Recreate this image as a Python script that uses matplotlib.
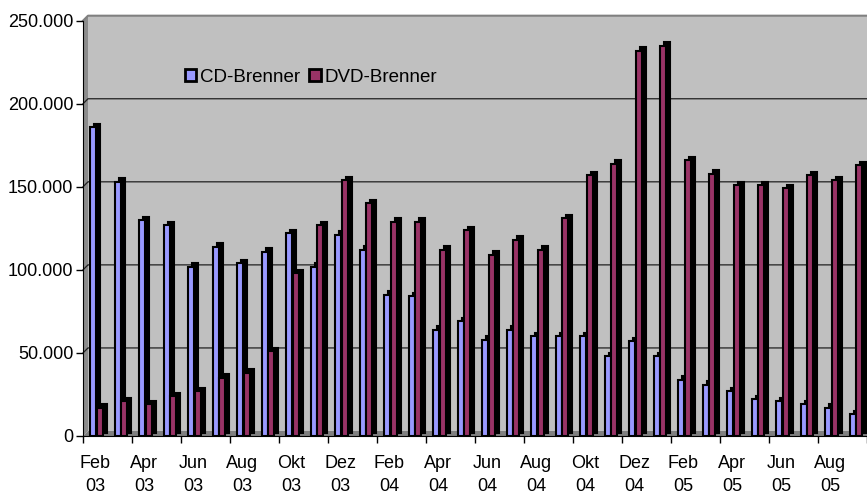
import matplotlib.pyplot as plt
import matplotlib.transforms as mtransforms
from matplotlib.patches import Polygon, Rectangle
from matplotlib.ticker import FuncFormatter
import numpy as np

plt.rcParams["font.family"] = ["Liberation Sans", "DejaVu Sans"]

# monthly sales, Feb 03 .. Sep 05 (thousands)
months = ["Feb 03", "Mär 03", "Apr 03", "Mai 03", "Jun 03", "Jul 03", "Aug 03", "Sep 03",
          "Okt 03", "Nov 03", "Dez 03", "Jan 04", "Feb 04", "Mär 04", "Apr 04", "Mai 04",
          "Jun 04", "Jul 04", "Aug 04", "Sep 04", "Okt 04", "Nov 04", "Dez 04", "Jan 05",
          "Feb 05", "Mär 05", "Apr 05", "Mai 05", "Jun 05", "Jul 05", "Aug 05", "Sep 05"]
cd_brenner = [186, 153, 130, 127, 102, 114, 104, 111, 122, 102, 121, 112,
              85, 84, 64, 69, 58, 64, 60, 60, 60, 48, 57, 48,
              34, 31, 27, 22, 21, 19, 17, 13]
dvd_brenner = [17, 21, 19, 24, 27, 35, 38, 51, 98, 127, 154, 140,
               129, 129, 112, 124, 109, 118, 112, 131, 157, 164, 232, 235,
               166, 158, 151, 151, 149, 157, 154, 163]
tick_labels = [m.replace(" ", "\n") for m in months[::2]]

cd_color = "#9999FF"
dvd_color = "#993366"

fig = plt.figure(figsize=(8.67, 4.97), dpi=100)
ax = fig.add_axes([83 / 867, 61 / 497, 784 / 867, 415.3 / 497])
ax.set_facecolor("none")

x = np.arange(len(months))
cd = np.array(cd_brenner) * 1000
dvd = np.array(dvd_brenner) * 1000

ax.set_xlim(-0.5, len(months) - 0.5)
ax.set_ylim(0, 250000)

# pseudo 3D walls
depth = 5
dxa = depth / 784
dya = depth / 415.3
ax.add_patch(Rectangle((dxa, dya), 1, 1, transform=ax.transAxes,
                       facecolor="#C0C0C0", edgecolor="none", clip_on=False, zorder=0))
ax.add_patch(Polygon([(0, 0), (dxa, dya), (dxa, 1 + dya), (0, 1)], closed=True,
                     transform=ax.transAxes, facecolor="#8C8C8C", edgecolor="none",
                     clip_on=False, zorder=0.5))
ax.add_patch(Polygon([(0, 0), (1, 0), (1 + dxa, dya), (dxa, dya)], closed=True,
                     transform=ax.transAxes, facecolor="#808080", edgecolor="none",
                     clip_on=False, zorder=0.5))
ax.plot([0, dxa, 1 + dxa], [1, 1 + dya, 1 + dya], color="#808080", lw=1.5,
        transform=ax.transAxes, clip_on=False, zorder=0.6)
for v in range(50000, 250000, 50000):
    f = v / 250000
    ax.plot([0, dxa, 1 + dxa], [f, f + dya, f + dya], color="#202020", lw=0.9,
            transform=ax.transAxes, clip_on=False, zorder=1)

# bars with a dark depth face behind them
shift = mtransforms.ScaledTranslation(4 / 100, 3.5 / 100, fig.dpi_scale_trans)
w = 0.25
x_cd = x - 0.075
x_dvd = x + 0.18
for xs, vals, col in [(x_cd, cd, cd_color), (x_dvd, dvd, dvd_color)]:
    ax.bar(xs, vals, width=w, color="black", edgecolor="black", linewidth=1.5,
           transform=ax.transData + shift, zorder=2, clip_on=False)
    ax.bar(xs, vals, width=w, color=col, edgecolor="black", linewidth=1.5, zorder=3)

# legend handles
h_cd = Rectangle((0, 0), 1, 1, facecolor=cd_color, edgecolor="black", linewidth=2)
h_dvd = Rectangle((0, 0), 1, 1, facecolor=dvd_color, edgecolor="black", linewidth=2)
ax.legend([h_cd, h_dvd], ["CD-Brenner", "DVD-Brenner"], ncol=2, frameon=False,
          loc="center", bbox_to_anchor=(311 / 867, 1 - 77 / 497),
          bbox_transform=fig.transFigure, fontsize=13.5, handlelength=0.62,
          handleheight=0.62, handletextpad=0.2, columnspacing=0.5)

# axes styling
for side in ["top", "right"]:
    ax.spines[side].set_visible(False)
ax.spines["left"].set_zorder(5)
ax.spines["bottom"].set_zorder(5)
ax.set_yticks(range(0, 250001, 50000))
ax.yaxis.set_major_formatter(FuncFormatter(lambda v, _: f"{int(v):,}".replace(",", ".")))
ax.tick_params(axis="y", direction="out", length=5, width=1, labelsize=13, pad=2)

ax.set_xticks(np.arange(-0.5, len(months), 2))
ax.set_xticklabels([])
ax.tick_params(axis="x", which="major", direction="out", length=5, width=1)
ax.set_xticks(x[::2], minor=True)
ax.set_xticklabels(tick_labels, minor=True, fontsize=13, linespacing=1.4)
ax.tick_params(axis="x", which="minor", length=0, pad=14)

fig.savefig("out.png", dpi=100)
